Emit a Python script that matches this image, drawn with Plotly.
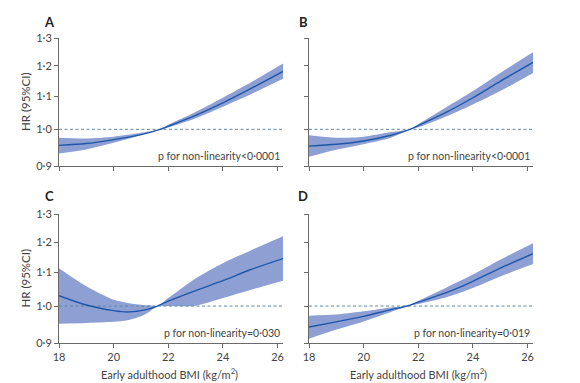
import plotly.graph_objects as go
import math

# ---- data ----
bmi_a = [18, 19, 20, 21, 21.7, 22, 23, 24, 25, 26.2]
hr_a = [0.955, 0.960, 0.971, 0.985, 1.0, 1.009, 1.041, 1.079, 1.123, 1.181]
lo_a = [0.933, 0.944, 0.962, 0.983, 1.0, 1.005, 1.032, 1.067, 1.105, 1.156]
up_a = [0.976, 0.974, 0.979, 0.990, 1.0, 1.013, 1.051, 1.095, 1.143, 1.208]

bmi_b = [18, 19, 20, 21, 21.7, 22, 23, 24, 25, 26.2]
hr_b = [0.953, 0.958, 0.967, 0.983, 1.0, 1.011, 1.049, 1.095, 1.148, 1.212]
lo_b = [0.924, 0.943, 0.958, 0.976, 1.0, 1.006, 1.037, 1.074, 1.116, 1.176]
up_b = [0.983, 0.976, 0.979, 0.992, 1.0, 1.015, 1.064, 1.116, 1.176, 1.248]

bmi_c = [18, 19, 20, 20.5, 21, 21.3, 21.6, 22, 23, 24, 25, 26.2]
hr_c = [1.030, 1.003, 0.987, 0.983, 0.987, 0.992, 1.0, 1.014, 1.045, 1.075, 1.109, 1.145]
lo_c = [0.951, 0.953, 0.956, 0.960, 0.971, 0.983, 1.0, 1.0, 1.001, 1.023, 1.047, 1.075]
up_c = [1.114, 1.058, 1.018, 1.009, 1.004, 1.002, 1.0, 1.023, 1.082, 1.130, 1.171, 1.220]

bmi_d = [18, 19, 20, 21, 21.6, 22, 23, 24, 25, 26.2]
hr_d = [0.942, 0.956, 0.971, 0.990, 1.0, 1.011, 1.038, 1.073, 1.114, 1.161]
lo_d = [0.911, 0.935, 0.957, 0.983, 1.0, 1.006, 1.025, 1.053, 1.088, 1.127]
up_d = [0.973, 0.976, 0.985, 0.996, 1.0, 1.015, 1.053, 1.094, 1.141, 1.196]

panel_labels = ["A", "B", "C", "D"]
p_texts = ["p for non-linearity<0·0001", "p for non-linearity<0·0001",
           "p for non-linearity=0·030", "p for non-linearity=0·019"]
y_title = "HR (95%CI)"
x_title = "Early adulthood BMI (kg/m<sup>2</sup>)"
y_ticks = [0.9, 1.0, 1.1, 1.2, 1.3]
y_ticklabels = ["0·9", "1·0", "1·1", "1·2", "1·3"]
x_ticks = [18, 20, 22, 24, 26]
x_range = [18, 26.2]

panels = [(bmi_a, hr_a, lo_a, up_a), (bmi_b, hr_b, lo_b, up_b),
          (bmi_c, hr_c, lo_c, up_c), (bmi_d, hr_d, lo_d, up_d)]

W, H = 580, 383
FONT = "Lato"
TXT = "#444444"
AX = "#6a6a6a"
FILL = "#8d9fd3"
LINE = "#1f57a8"
DASH = "#5d8aa3"

xpx = [(59, 283), (309, 533)]
ypx = [(38, 166), (214, 343)]
xdoms = [(a / W, b / W) for a, b in xpx]
ydoms = [(1 - b / H, 1 - a / H) for a, b in ypx]

fig = go.Figure()
layout = dict(width=W, height=H, autosize=False,
              margin=dict(l=0, r=0, t=0, b=0, pad=0, autoexpand=False),
              paper_bgcolor="white", plot_bgcolor="white", showlegend=False,
              font=dict(family=FONT, size=10, color=TXT))
annotations = []

for i, (xs, hr, lo, up) in enumerate(panels):
    row, col = divmod(i, 2)
    n = i + 1
    xa = "x" if n == 1 else f"x{n}"
    ya = "y" if n == 1 else f"y{n}"
    sp = dict(shape="spline", smoothing=0.8)
    fig.add_trace(go.Scatter(x=xs, y=lo, mode="lines", line=dict(width=0, color=FILL, **sp),
                             xaxis=xa, yaxis=ya, hoverinfo="skip"))
    fig.add_trace(go.Scatter(x=xs, y=up, mode="lines", line=dict(width=0, color=FILL, **sp),
                             fill="tonexty", fillcolor=FILL, xaxis=xa, yaxis=ya, hoverinfo="skip"))
    fig.add_trace(go.Scatter(x=x_range, y=[1.0, 1.0], mode="lines",
                             line=dict(width=1, color=DASH, dash="3px,2.5px"),
                             xaxis=xa, yaxis=ya, hoverinfo="skip"))
    fig.add_trace(go.Scatter(x=xs, y=hr, mode="lines", line=dict(width=1.4, color=LINE, **sp),
                             xaxis=xa, yaxis=ya))

    xkey = "xaxis" if n == 1 else f"xaxis{n}"
    ykey = "yaxis" if n == 1 else f"yaxis{n}"
    layout[xkey] = dict(domain=xdoms[col], anchor=ya, range=x_range, tickvals=x_ticks,
                        showticklabels=(row == 1), showline=True, linecolor=AX, linewidth=1,
                        ticks="outside", ticklen=4, tickcolor=AX, showgrid=False, zeroline=False,
                        automargin=False, tickfont=dict(size=11, color=TXT))
    layout[ykey] = dict(domain=ydoms[row], anchor=xa, type="log",
                        range=[math.log10(0.9), math.log10(1.3)], tickvals=y_ticks,
                        ticktext=y_ticklabels, showticklabels=(col == 0), showline=True,
                        linecolor=AX, linewidth=1, ticks="outside", ticklen=4, tickcolor=AX,
                        showgrid=False, zeroline=False, automargin=False,
                        tickfont=dict(size=11, color=TXT))
    if col == 0:
        cy = (ypx[row][0] + ypx[row][1]) / 2
        annotations.append(dict(text=y_title, x=25 / W, y=1 - cy / H, xref="paper", yref="paper",
                                showarrow=False, textangle=-90, xanchor="center", yanchor="middle",
                                font=dict(size=11.5, color=TXT)))
    if row == 1:
        cx = (xpx[col][0] + xpx[col][1]) / 2 - 2
        annotations.append(dict(text=x_title, x=cx / W, y=1 - 373 / H, xref="paper", yref="paper",
                                showarrow=False, xanchor="center", yanchor="middle",
                                font=dict(size=11, color=TXT)))

    lx = (49 if col == 0 else 303) / W
    ly = 1 - (22 if row == 0 else 196) / H
    annotations.append(dict(text=f"<b>{panel_labels[i]}</b>", x=lx, y=ly, xref="paper", yref="paper",
                            showarrow=False, xanchor="center", yanchor="middle",
                            font=dict(size=13, color="#222222")))
    px = (282 if col == 0 else 532) / W
    py = 1 - (156 if row == 0 else 333) / H
    annotations.append(dict(text=p_texts[i], x=px, y=py, xref="paper", yref="paper",
                            showarrow=False, xanchor="right", yanchor="middle",
                            font=dict(size=10.5, color=TXT)))

layout["annotations"] = annotations
fig.update_layout(**layout)
fig.write_html("out.html", config={"displayModeBar": False},
               post_script="document.body.style.margin='0';")
